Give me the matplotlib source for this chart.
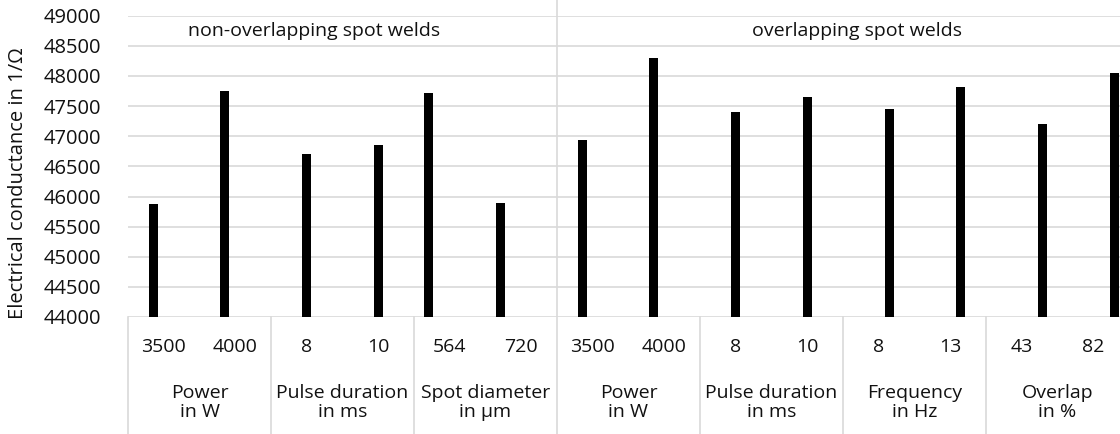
import matplotlib
matplotlib.use("Agg")
import matplotlib.pyplot as plt
import matplotlib.transforms as mtransforms
import numpy as np

plt.rcParams["font.family"] = ["Open Sans", "DejaVu Sans"]

# level-1 tick labels (parameter values) and bar heights
values = ["3500", "4000", "8", "10", "564", "720",
          "3500", "4000", "8", "10", "8", "13", "43", "82"]
conductance = [45870, 47745, 46710, 46855, 47710, 45895,
               46935, 48300, 47395, 47650, 47450, 47810, 47210, 48050]

# level-2 labels (parameter groups), two categories each
groups = [("Power", "in W"), ("Pulse duration", "in ms"), ("Spot diameter", "in µm"),
          ("Power", "in W"), ("Pulse duration", "in ms"), ("Frequency", "in Hz"),
          ("Overlap", "in %")]
# excel series of each group (clustered columns, one series per parameter)
series_of_group = ["Power", "Pulse duration", "Spot diameter",
                   "Power", "Pulse duration", "Frequency", "Overlap"]
series_order = ["Spot diameter", "Power", "Pulse duration", "Frequency", "Overlap"]

regions = ["non-overlapping spot welds", "overlapping spot welds"]

W, H = 1120, 434
fig = plt.figure(figsize=(W / 100, H / 100), dpi=100)
left_px, right_px, top_px, bot_px = 128, 1129, 15.75, 317
ax = fig.add_axes([left_px / W, 1 - bot_px / H,
                   (right_px - left_px) / W, (bot_px - top_px) / H])

grid_c = "#d9d9d9"
txt_c = "#111111"
slot = 0.147
bw = 0.13
n = len(values)
for i, v in enumerate(conductance):
    s = series_order.index(series_of_group[i // 2])
    x = i + 0.5 + (s - 2) * slot
    ax.bar(x, v - 44000, bottom=44000, width=bw, color="black", zorder=3)

ax.set_xlim(0, n)
ax.set_ylim(44000, 49000)
ax.set_yticks(np.arange(44000, 49001, 500))
ax.yaxis.grid(True, color=grid_c, lw=1.2, zorder=0)
ax.set_xticks([])
ax.tick_params(axis="y", length=0, pad=19, labelsize=14.5, labelcolor=txt_c)
for sp in ax.spines.values():
    sp.set_visible(False)

# category table below the plot, separator between the two regions
trans = mtransforms.blended_transform_factory(ax.transData, ax.transAxes)
ax_h = bot_px - top_px
bottom_ax = -(H - bot_px) / ax_h
top_ax = 1 + top_px / ax_h
for k in range(0, n + 1, 2):
    y_top = top_ax if k == 6 else 0
    ax.plot([k, k], [bottom_ax, y_top], transform=trans, color=grid_c,
            lw=1.2, clip_on=False, zorder=1)

for i, lab in enumerate(values):
    ax.text(i + 0.5, -30 / ax_h, lab, transform=trans, ha="center", va="center",
            fontsize=14, color=txt_c)
for g, (l1, l2) in enumerate(groups):
    ax.text(2 * g + 1, -76 / ax_h, l1, transform=trans, ha="center", va="center",
            fontsize=14, color=txt_c)
    ax.text(2 * g + 1, -95 / ax_h, l2, transform=trans, ha="center", va="center",
            fontsize=14, color=txt_c)

ax.text(2.6, 48750, regions[0], ha="center", va="center", fontsize=14, color=txt_c)
ax.text(10.2, 48750, regions[1], ha="center", va="center", fontsize=14, color=txt_c)

fig.text(18 / W, 1 - 183 / H, "Electrical conductance in 1/Ω", rotation=90,
         ha="center", va="center", fontsize=14.5, color=txt_c)

fig.savefig("out.png", dpi=100)
